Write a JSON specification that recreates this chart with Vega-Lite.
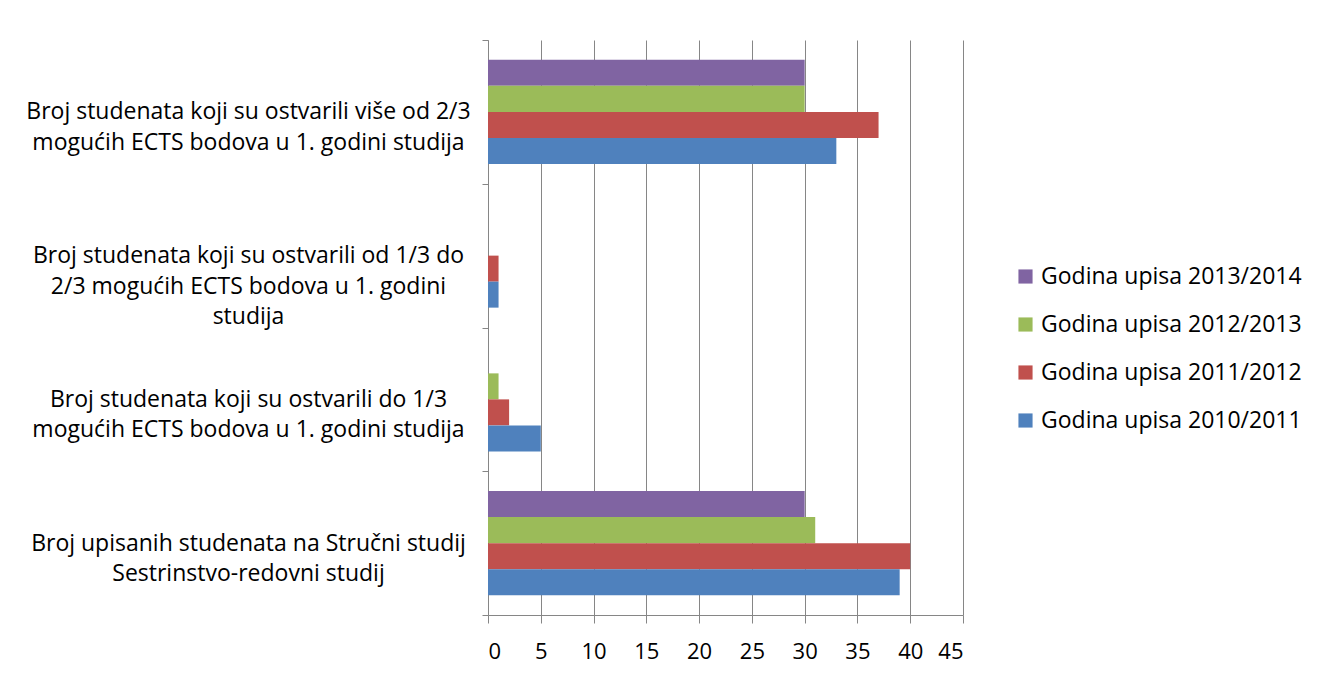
{
  "$schema": "https://vega.github.io/schema/vega-lite/v6.json",
  "width": 475,
  "height": 575,
  "autosize": {"type": "none"},
  "padding": {"left": 488, "top": 40, "right": 356, "bottom": 58},
  "background": "white",
  "config": {
    "font": "Open Sans",
    "view": {"stroke": null}
  },
  "data": {
    "values": [
      {"kat": "Broj studenata koji su ostvarili više od 2/3|mogućih ECTS bodova u 1. godini studija", "serija": "Godina upisa 2013/2014", "v": 30},
      {"kat": "Broj studenata koji su ostvarili više od 2/3|mogućih ECTS bodova u 1. godini studija", "serija": "Godina upisa 2012/2013", "v": 30},
      {"kat": "Broj studenata koji su ostvarili više od 2/3|mogućih ECTS bodova u 1. godini studija", "serija": "Godina upisa 2011/2012", "v": 37},
      {"kat": "Broj studenata koji su ostvarili više od 2/3|mogućih ECTS bodova u 1. godini studija", "serija": "Godina upisa 2010/2011", "v": 33},
      {"kat": "Broj studenata koji su ostvarili od 1/3 do|2/3 mogućih ECTS bodova u 1. godini|studija", "serija": "Godina upisa 2013/2014", "v": 0},
      {"kat": "Broj studenata koji su ostvarili od 1/3 do|2/3 mogućih ECTS bodova u 1. godini|studija", "serija": "Godina upisa 2012/2013", "v": 0},
      {"kat": "Broj studenata koji su ostvarili od 1/3 do|2/3 mogućih ECTS bodova u 1. godini|studija", "serija": "Godina upisa 2011/2012", "v": 1},
      {"kat": "Broj studenata koji su ostvarili od 1/3 do|2/3 mogućih ECTS bodova u 1. godini|studija", "serija": "Godina upisa 2010/2011", "v": 1},
      {"kat": "Broj studenata koji su ostvarili do 1/3|mogućih ECTS bodova u 1. godini studija", "serija": "Godina upisa 2013/2014", "v": 0},
      {"kat": "Broj studenata koji su ostvarili do 1/3|mogućih ECTS bodova u 1. godini studija", "serija": "Godina upisa 2012/2013", "v": 1},
      {"kat": "Broj studenata koji su ostvarili do 1/3|mogućih ECTS bodova u 1. godini studija", "serija": "Godina upisa 2011/2012", "v": 2},
      {"kat": "Broj studenata koji su ostvarili do 1/3|mogućih ECTS bodova u 1. godini studija", "serija": "Godina upisa 2010/2011", "v": 5},
      {"kat": "Broj upisanih studenata na Stručni studij|Sestrinstvo-redovni studij", "serija": "Godina upisa 2013/2014", "v": 30},
      {"kat": "Broj upisanih studenata na Stručni studij|Sestrinstvo-redovni studij", "serija": "Godina upisa 2012/2013", "v": 31},
      {"kat": "Broj upisanih studenata na Stručni studij|Sestrinstvo-redovni studij", "serija": "Godina upisa 2011/2012", "v": 40},
      {"kat": "Broj upisanih studenata na Stručni studij|Sestrinstvo-redovni studij", "serija": "Godina upisa 2010/2011", "v": 39}
    ]
  },
  "mark": {"type": "bar"},
  "encoding": {
    "y": {
      "field": "kat",
      "type": "nominal",
      "sort": null,
      "title": null,
      "scale": {"paddingInner": 0, "paddingOuter": 0},
      "axis": {
        "tickBand": "extent",
        "labelExpr": "split(datum.label, '|')",
        "labelAlign": "center",
        "labelBaseline": "middle",
        "labelPadding": 234,
        "labelLimit": 0,
        "labelFontSize": 23,
        "labelLineHeight": 30.5,
        "labelColor": "#000000",
        "domainColor": "#868686",
        "tickColor": "#868686",
        "tickSize": 6,
        "grid": false
      }
    },
    "yOffset": {
      "field": "serija",
      "type": "nominal",
      "scale": {
        "domain": ["Godina upisa 2013/2014", "Godina upisa 2012/2013", "Godina upisa 2011/2012", "Godina upisa 2010/2011"],
        "paddingInner": 0,
        "paddingOuter": 0.764
      }
    },
    "x": {
      "field": "v",
      "type": "quantitative",
      "title": null,
      "scale": {"domain": [0, 45], "nice": false},
      "axis": {
        "values": [0, 5, 10, 15, 20, 25, 30, 35, 40, 45],
        "labelFontSize": 22,
        "labelColor": "#000000",
        "labelPadding": 18,
        "domainColor": "#868686",
        "tickColor": "#868686",
        "tickSize": 8,
        "gridColor": "#868686",
        "gridOpacity": 1
      }
    },
    "color": {
      "field": "serija",
      "type": "nominal",
      "scale": {
        "domain": ["Godina upisa 2013/2014", "Godina upisa 2012/2013", "Godina upisa 2011/2012", "Godina upisa 2010/2011"],
        "range": ["#8064A2", "#9BBB59", "#C0504D", "#4F81BD"]
      },
      "legend": {
        "title": null,
        "orient": "none",
        "legendX": 526,
        "legendY": 225,
        "symbolType": "square",
        "symbolSize": 200,
        "symbolStrokeWidth": 0,
        "labelFontSize": 23,
        "labelColor": "#000000",
        "labelOffset": 4,
        "rowPadding": 24,
        "labelLimit": 0
      }
    }
  }
}
